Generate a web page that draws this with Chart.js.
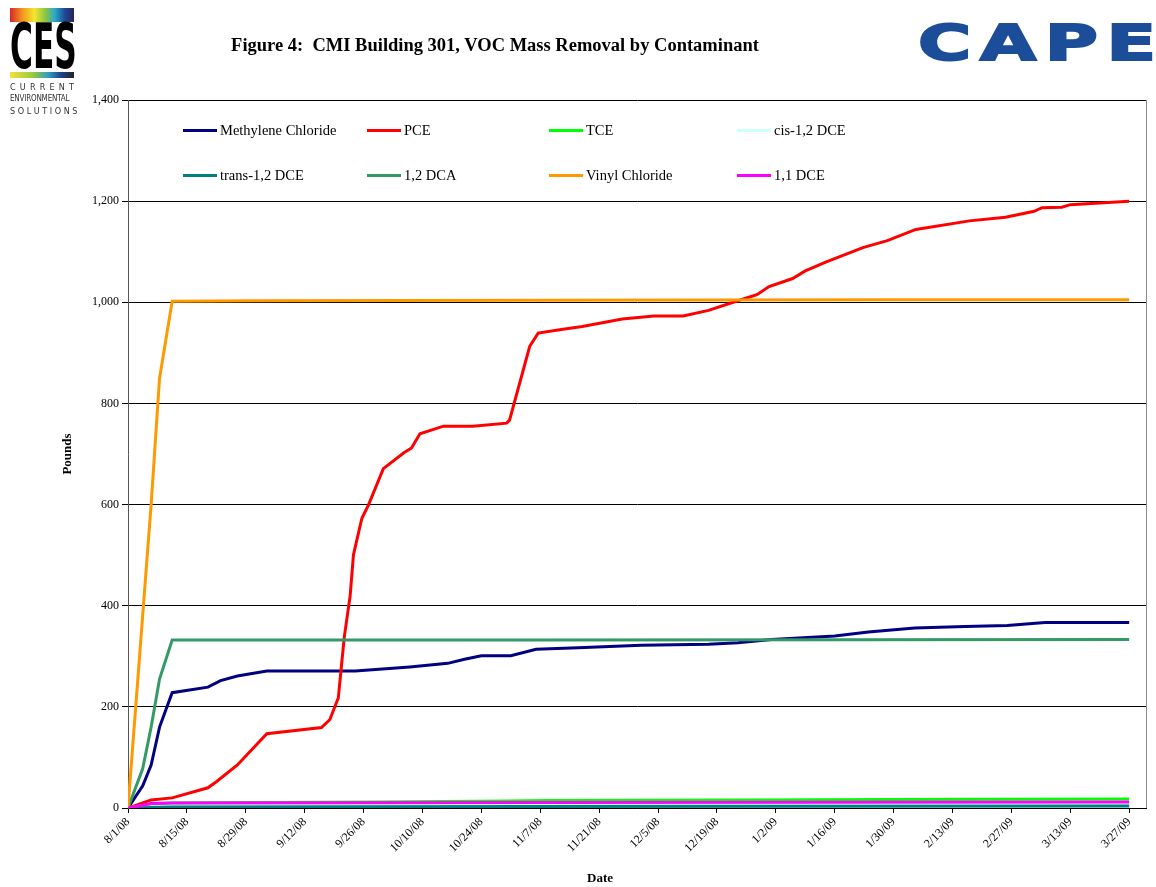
<!DOCTYPE html>
<html>
<head>
<meta charset="UTF-8">
<title>Figure 4: CMI Building 301, VOC Mass Removal by Contaminant</title>
<script src="https://cdn.jsdelivr.net/npm/chart.js"></script>
<style>
  body { margin: 0; background: #fff; }
  #page { position: relative; width: 1156px; height: 887px; overflow: hidden; font-family: 'Liberation Serif', 'Times New Roman', serif; }
  #chart { position: absolute; left: 0; top: 0; }
  #title { position: absolute; left: 0; width: 990px; top: 35px; text-align: center; font-weight: bold; font-size: 18.5px; white-space: pre; }
  #xtitle { position: absolute; left: 560px; width: 80px; top: 870px; text-align: center; font-weight: bold; font-size: 13px; }
  #ces { position: absolute; left: 10px; top: 8px; width: 64px; }
  #ces .bar1 { height: 14px; background: linear-gradient(90deg, #d7262b, #f39a1e 20%, #f5e52f 38%, #8cc63f 55%, #2aa9c9 70%, #1f4b99 85%, #2a2255); }
  #ces .big { font-family: 'DejaVu Sans Condensed', sans-serif; font-weight: bold; font-size: 62px; line-height: 50px; height: 50px; white-space: nowrap; transform-origin: left center; transform: scaleX(0.56); color: #000; }
  #ces .bar2 { height: 6px; background: linear-gradient(90deg, #f3e23a, #9ccb3b 35%, #2e9fb8 60%, #1f3f8f 80%, #222); }
  #ces .small { font-family: 'DejaVu Sans Condensed', sans-serif; font-size: 9px; line-height: 12px; height: 12px; white-space: nowrap; text-align: justify; text-align-last: justify; color: #333; }
  #ces .small.tight { font-size: 8px; letter-spacing: -0.2px; }
  #cape { position: absolute; left: 918px; top: 14px; font-family: 'DejaVu Sans', sans-serif; font-weight: bold; font-size: 50px; color: #1c4d99; letter-spacing: 6px; transform-origin: left top; transform: scaleX(1.45); -webkit-text-stroke: 2px #1c4d99; }
  #legend { position: absolute; left: 183px; top: 120px; display: grid; grid-template-columns: 184px 182px 188px 190px; grid-auto-rows: 45px; font-size: 14.5px; }
  #legend .item { display: flex; align-items: center; height: 20px; white-space: nowrap; }
  #legend .swatch { width: 34px; height: 3px; margin-right: 3px; }
</style>
</head>
<body>
<div id="page">
  <canvas id="chart" width="1156" height="887"></canvas>
  <div id="ces">
    <div class="bar1"></div>
    <div class="big">CES</div>
    <div class="bar2"></div>
    <div class="small" style="margin-top:3px">C U R R E N T</div>
    <div class="small tight">ENVIRONMENTAL</div>
    <div class="small">S O L U T I O N S</div>
  </div>
  <div id="title">Figure 4:  CMI Building 301, VOC Mass Removal by Contaminant</div>
  <div id="cape">CAPE</div>
  <div id="legend"></div>
  <div id="xtitle">Date</div>
</div>

<script>
  // date axis: days since 8/1/08, ticks every 14 days
  const tickLabels = ['8/1/08', '8/15/08', '8/29/08', '9/12/08', '9/26/08', '10/10/08', '10/24/08', '11/7/08',
    '11/21/08', '12/5/08', '12/19/08', '1/2/09', '1/16/09', '1/30/09', '2/13/09', '2/27/09', '3/13/09', '3/27/09'];
  const tickDays = tickLabels.map((_, i) => i * 14);
  const lastDay = 242; // 3/31/09, end of the axis
  const yTicks = [0, 200, 400, 600, 800, 1000, 1200, 1400];

  const seriesNames = ['Methylene Chloride', 'PCE', 'TCE', 'cis-1,2 DCE', 'trans-1,2 DCE', '1,2 DCA', 'Vinyl Chloride', '1,1 DCE'];
  const seriesColors = ['#000080', '#ff0000', '#00ff00', '#ccffff', '#008080', '#339966', '#ff9900', '#ff00ff'];

  const mcDays = [0, 3.5, 5.5, 7.5, 10.5, 19, 22, 26, 33, 54, 67, 76, 80, 84, 91, 97, 107, 122, 138, 145, 153, 168, 176, 187, 199, 209, 218, 238];
  const mcLbs = [0, 44, 85, 160, 228, 239, 252, 261, 271, 271, 279, 286, 294, 301, 301, 314, 317, 322, 324, 327, 333, 340, 348, 356, 359, 361, 367, 367];

  const pceDays = [0, 5.5, 10.5, 19, 21, 26, 33, 46, 48, 50, 51.4, 52.8, 53.6, 55.6, 57.2, 60.7, 65.5, 67.4, 69.4, 75, 82, 90, 90.7, 95.5, 97.5,
    103, 108, 117.5, 125, 132, 138, 144.6, 149.5, 152.4, 158, 161, 166, 174.7, 180.5, 187.3, 200, 208.6, 215.4, 217.3, 222, 224, 232, 238];
  const pceLbs = [0, 16, 20, 40, 52, 85, 147, 159, 175, 218, 337, 419, 501, 573, 600, 671, 702, 712, 740, 755, 755, 761, 767, 913, 939,
    946, 952, 967, 973, 973, 984, 1002, 1015, 1031, 1047, 1062, 1080, 1108, 1122, 1144, 1161, 1168, 1180, 1187, 1188, 1193, 1197, 1200];

  const tceDays = [0, 5.5, 10.5, 30, 60, 90, 100, 150, 180, 238];
  const tceLbs = [0, 8, 10, 11, 12, 14, 15, 16, 17, 18];

  const cisDays = [0, 10.5, 238];
  const cisLbs = [0, 4, 6];

  const transDays = [0, 10.5, 95, 238];
  const transLbs = [0, 2, 3, 4];

  const dcaDays = [0, 3.5, 5.5, 7.5, 10.5, 30, 100, 238];
  const dcaLbs = [0, 78, 160, 255, 332, 332, 332, 333];

  const vcDays = [0, 3.5, 5.5, 7.5, 10.5, 30, 100, 180, 238];
  const vcLbs = [0, 382, 600, 850, 1002, 1003, 1004, 1005, 1005];

  const dce11Days = [0, 5.5, 10.5, 100, 238];
  const dce11Lbs = [0, 9, 10, 11, 12];

  const allDays = [mcDays, pceDays, tceDays, cisDays, transDays, dcaDays, vcDays, dce11Days];
  const allLbs = [mcLbs, pceLbs, tceLbs, cisLbs, transLbs, dcaLbs, vcLbs, dce11Lbs];

  const serif = "'Liberation Serif', 'Times New Roman', serif";

  const datasets = seriesNames.map((name, i) => ({
    label: name,
    data: allDays[i].map((d, j) => ({ x: d, y: allLbs[i][j] })),
    borderColor: seriesColors[i],
    borderWidth: 3,
    pointRadius: 0,
    tension: 0,
    fill: false,
    order: seriesNames.length - i   // later series drawn on top, like the original
  }));

  // plot area outline (right edge) in grey
  const frame = {
    id: 'frame',
    beforeDatasetsDraw(chart) {
      const a = chart.chartArea, c = chart.ctx;
      c.save();
      c.strokeStyle = '#8c8c8c';
      c.lineWidth = 1;
      c.beginPath();
      c.moveTo(a.right + 0.5, a.top);
      c.lineTo(a.right + 0.5, a.bottom);
      c.stroke();
      c.restore();
    }
  };

  new Chart(document.getElementById('chart'), {
    type: 'line',
    data: { datasets },
    plugins: [frame],
    options: {
      responsive: false,
      animation: false,
      layout: { padding: { top: 100, right: 10, left: 0, bottom: 0 } },
      plugins: { legend: { display: false }, tooltip: { enabled: false } },
      scales: {
        x: {
          type: 'linear',
          min: 0,
          max: lastDay,
          afterBuildTicks: s => { s.ticks = tickDays.map(v => ({ value: v })); },
          afterFit: s => { s.height = 79; },
          ticks: {
            autoSkip: false,
            minRotation: 45,
            maxRotation: 45,
            padding: 2,
            color: '#000',
            font: { family: serif, size: 12 },
            callback: (v, i) => tickLabels[i]
          },
          grid: { drawOnChartArea: false, drawTicks: true, tickLength: 5, color: '#000' },
          border: { color: '#000' }
        },
        y: {
          min: 0,
          max: 1400,
          afterBuildTicks: s => { s.ticks = yTicks.map(v => ({ value: v })); },
          afterFit: s => { s.width = 128; },
          ticks: {
            padding: 3,
            color: '#000',
            font: { family: serif, size: 12 },
            callback: v => v.toLocaleString('en-US')
          },
          grid: { color: '#000', lineWidth: 1, tickLength: 6 },
          border: { color: '#555' },
          title: { display: true, text: 'Pounds', color: '#000', padding: { top: 60, bottom: 0 }, font: { family: serif, size: 13, weight: 'bold' } }
        }
      }
    }
  });

  // legend laid out in two rows of four, inside the plot
  const legend = document.getElementById('legend');
  seriesNames.forEach((name, i) => {
    const item = document.createElement('div');
    item.className = 'item';
    item.innerHTML = `<span class="swatch" style="background:${seriesColors[i]}"></span>${name}`;
    legend.appendChild(item);
  });
</script>
</body>
</html>
